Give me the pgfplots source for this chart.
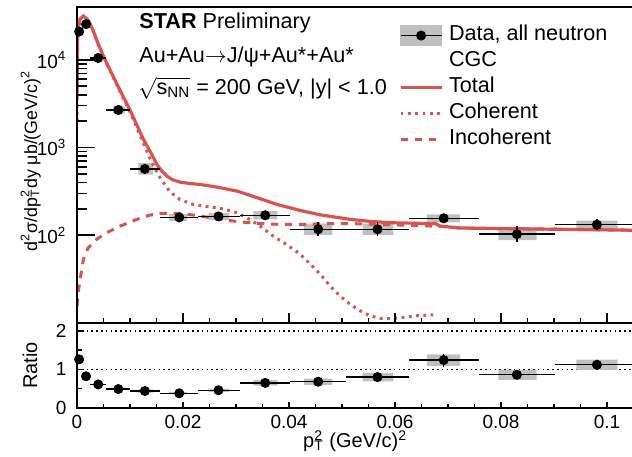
\documentclass[border=0pt]{standalone}
\usepackage{fontspec}
\setmainfont{Liberation Sans}
\usepackage{pgfplots}
\usepackage{pgfplotstable}
\pgfplotsset{compat=1.18}

\definecolor{cgcred}{RGB}{216,84,80}
\definecolor{sysgray}{RGB}{192,192,192}

\newcommand\tickfont{\fontsize{9.5}{11}\selectfont}
\newcommand\labfont{\fontsize{10}{12}\selectfont}
\newcommand\ylabfont{\fontsize{8.9}{11}\selectfont}
\newcommand\txtfont{\fontsize{10.8}{13}\selectfont}
\newcommand\ptsq{p\rlap{\textsuperscript{2}}\textsubscript{T}}

% measured spectrum: x = pT^2, y, bin half-widths, statistical errors
\pgfplotstableread{
x      y      exm    exp    eyp    eym
0.0004 21000  0.0004 0.0006 1720   1590
0.0017 25500  0.0007 0.0008 2090   1940
0.0040 10500  0.0015 0.0015 860    800
0.0078 2680   0.0023 0.0022 220    204
0.0128 570    0.0028 0.0029 47     43
0.0193 160    0.0036 0.0035 13     12
0.0267 164    0.0039 0.0040 13.5   12.5
0.0355 169    0.0048 0.0046 14     13
0.0455 117    0.0054 0.0052 23.5   19.6
0.0567 117    0.0060 0.0060 23.5   19.6
0.0692 156    0.0065 0.0067 21.8   19.2
0.0830 103    0.0071 0.0072 24     19.5
0.0981 132    0.0079 0.0094 20.5   17.7
}\spectrum

% data / CGC total
\pgfplotstableread{
x      y     exm    exp    eyp   eym
0.0004 1.26  0.0004 0.0006 0.05  0.05
0.0017 0.82  0.0007 0.0008 0.04  0.04
0.0040 0.61  0.0015 0.0015 0.03  0.03
0.0078 0.49  0.0023 0.0022 0.03  0.03
0.0128 0.44  0.0028 0.0029 0.03  0.03
0.0193 0.38  0.0036 0.0035 0.03  0.03
0.0267 0.46  0.0039 0.0040 0.03  0.03
0.0355 0.65  0.0048 0.0046 0.05  0.05
0.0455 0.68  0.0054 0.0052 0.07  0.07
0.0567 0.80  0.0060 0.0060 0.10  0.10
0.0692 1.24  0.0065 0.0067 0.17  0.17
0.0830 0.86  0.0071 0.0072 0.12  0.12
0.0981 1.12  0.0079 0.0094 0.13  0.13
}\ratiotab

% CGC predictions
\pgfplotstableread{
x      y
0      3800
0.0001 16900
0.0003 24300
0.0006 29200
0.0012 31600
0.0021 28500
0.0030 21900
0.0040 15200
0.0051 10600
0.0075 5340
0.0100 2680
0.0125 1250
0.0140 860
0.0151 640
0.0160 540
0.0170 470
0.0180 430
0.0195 403
0.0215 388
0.0232 380
0.0264 354
0.0302 319
0.0340 268
0.0377 225
0.0421 192
0.0459 171
0.0515 152
0.0553 144
0.0591 139
0.0642 137
0.0677 135
0.0685 127
0.0723 121
0.0811 119
0.1060 114
}\cgctotal

\pgfplotstableread{
x      y
0      1970
0.0001 16500
0.0003 24000
0.0006 29000
0.0012 31400
0.0021 28300
0.0030 21700
0.0040 15000
0.0051 10450
0.0075 5200
0.0100 2540
0.0119 1380
0.0138 740
0.0157 450
0.0175 315
0.0194 256
0.0219 225
0.0245 213
0.0270 203
0.0295 187
0.0320 159
0.0345 128
0.0370 98
0.0396 78
0.0421 61
0.0440 47
0.0459 36
0.0477 26.6
0.0496 20.4
0.0515 16.4
0.0534 13.8
0.0553 12.1
0.0572 11.3
0.0591 11.2
0.0616 11.6
0.0641 12.1
0.0672 12.4
}\cgccoh

\pgfplotstableread{
x      y
0      15.7
0.0003 24
0.0006 31.6
0.0012 53
0.0021 72
0.0037 90
0.0056 107
0.0081 127
0.0113 152
0.0138 170
0.0157 178
0.0194 178
0.0232 166
0.0270 152
0.0308 142
0.0345 136
0.0383 133
0.0421 133
0.0477 136
0.0515 136
0.0553 134
0.0591 132
0.0641 129
0.0677 127
0.0685 127
0.0723 121
0.0811 119
0.1060 114
}\cgcincoh

\pgfplotsset{
  panel/.style={
    scale only axis, width=280.9pt,
    xmin=0, xmax=0.106,
    axis line style={line width=0.9pt},
    tick style={line width=0.8pt, black},
    tick align=inside, xtick pos=bottom, ytick pos=left,
    xtick={0,0.02,0.04,0.06,0.08,0.1}, minor x tick num=3,
    scaled x ticks=false,
    tick label style={font=\tickfont},
    /pgf/number format/assume math mode=true,
    label style={font=\labfont},
    axis on top,
  },
  sysbox/.style={fill=sysgray, draw=none, forget plot, unbounded coords=jump},
  datapts/.style={only marks, mark=*, mark size=2.3pt, black, forget plot,
    error bars/.cd, x dir=both, x explicit, y dir=both, y explicit,
    error mark=none, error bar style={line width=0.7pt, black}},
}

\begin{document}
\begin{tikzpicture}
\begin{axis}[panel, name=main, at={(0,0)}, anchor=south west,
  height=158pt,
  ymode=log, ymin=10, ymax=4e4,
  ytick={100,1000,10000},
  yticklabels={10\textsuperscript{2},10\textsuperscript{3},10\textsuperscript{4}},
  yticklabel style={xshift=-1.8pt},
  xticklabels={},
  xtick style={/pgfplots/major tick length=5pt, /pgfplots/minor tick length=2.5pt},
  ytick style={/pgfplots/major tick length=9pt, /pgfplots/minor tick length=5pt},
  ylabel={d\textsuperscript{2}σ/d\ptsq dy μb/(GeV/c)\textsuperscript{2}},
  ylabel style={at={(axis description cs:-0.0712,0.513)}, anchor=base, font=\ylabfont},
  legend style={at={(axis description cs:0.5732,0.9425)}, anchor=north west,
    draw=none, fill=none, inner sep=0pt, outer sep=0pt,
    font=\txtfont, row sep=2.6pt, column sep=0pt,
    nodes={inner xsep=0pt, inner ysep=0pt, text height=7.8pt, text depth=2.6pt}},
  legend cell align=left,
]
% systematic uncertainties
\addplot[sysbox] coordinates {
 (0.0035,9960) (0.0047,9960) (0.0047,11070) (0.0035,11070) (nan,nan)
 (0.0068,2430) (0.0090,2430) (0.0090,2950) (0.0068,2950) (nan,nan)
 (0.0116,490) (0.0143,490) (0.0143,663) (0.0116,663) (nan,nan)
 (0.0174,146) (0.0208,146) (0.0208,175) (0.0174,175) (nan,nan)
 (0.0248,150) (0.0287,150) (0.0287,180) (0.0248,180) (nan,nan)
 (0.0333,152) (0.0378,152) (0.0378,188) (0.0333,188) (nan,nan)
 (0.0428,101) (0.0482,101) (0.0482,136) (0.0428,136) (nan,nan)
 (0.0539,101) (0.0597,101) (0.0597,136) (0.0539,136) (nan,nan)
 (0.0660,140.5) (0.0723,140.5) (0.0723,173) (0.0660,173) (nan,nan)
 (0.0795,88) (0.0867,88) (0.0867,120.5) (0.0795,120.5) (nan,nan)
 (0.0942,119) (0.1020,119) (0.1020,147) (0.0942,147)
};
% CGC curves
\addplot[cgcred, line width=1.5pt, dash pattern=on 3.7pt off 3.3pt, forget plot] table {\cgcincoh};
\addplot[cgcred, line width=1.5pt, dash pattern=on 1.4pt off 2.25pt, forget plot] table {\cgccoh};
\addplot[cgcred, line width=1.6pt, forget plot] table {\cgctotal};
% data
\addplot[datapts] table[x=x, y=y, x error plus=exp, x error minus=exm,
  y error plus=eyp, y error minus=eym] {\spectrum};

\addlegendimage{legend image code/.code={
  \fill[sysgray] (0pt,-4.85pt) rectangle (20.5pt,4.85pt);
  \draw[black, line width=0.7pt] (0pt,0pt) -- (20.5pt,0pt);
  \fill[black] (10.25pt,0pt) circle (2.3pt);
  \path (24pt,0pt);}}
\addlegendentry{Data, all neutron}
\addlegendimage{legend image code/.code={\path (0pt,0pt) (24pt,0pt);}}
\addlegendentry{CGC}
\addlegendimage{legend image code/.code={
  \draw[cgcred, line width=1.6pt] (0pt,0pt) -- (20.5pt,0pt); \path (24pt,0pt);}}
\addlegendentry{Total}
\addlegendimage{legend image code/.code={
  \draw[cgcred, line width=1.5pt, dash pattern=on 1.4pt off 2.25pt] (0pt,0pt) -- (20.5pt,0pt); \path (24pt,0pt);}}
\addlegendentry{Coherent}
\addlegendimage{legend image code/.code={
  \draw[cgcred, line width=1.5pt, dash pattern=on 3.7pt off 3.3pt] (0pt,0pt) -- (20.5pt,0pt); \path (24pt,0pt);}}
\addlegendentry{Incoherent}
\end{axis}

\begin{axis}[panel, at={(main.south west)}, anchor=north west,
  height=42.5pt,
  ymin=0, ymax=2.2, ytick={0,1,2}, minor y tick num=1,
  yticklabel style={xshift=-1.8pt},
  xticklabel style={/pgf/number format/.cd, fixed, precision=3},
  xtick style={/pgfplots/major tick length=3pt, /pgfplots/minor tick length=2pt},
  ytick style={/pgfplots/major tick length=3.5pt, /pgfplots/minor tick length=2.5pt},
  ylabel={Ratio},
  ylabel style={at={(axis description cs:-0.0712,0.5)}, anchor=base},
  xlabel={\ptsq\ (GeV/c)\textsuperscript{2}},
  xlabel style={at={(axis description cs:0.495,-0.465)}, anchor=base},
]
\addplot[black, line width=0.8pt, dash pattern=on 0.8pt off 1.6pt, forget plot] coordinates {(0,1) (0.106,1)};
\addplot[black, line width=0.8pt, dash pattern=on 0.8pt off 1.6pt, forget plot] coordinates {(0,2) (0.106,2)};
\addplot[sysbox] coordinates {
 (0.0035,0.58) (0.0047,0.58) (0.0047,0.64) (0.0035,0.64) (nan,nan)
 (0.0068,0.46) (0.0090,0.46) (0.0090,0.52) (0.0068,0.52) (nan,nan)
 (0.0116,0.40) (0.0143,0.40) (0.0143,0.48) (0.0116,0.48) (nan,nan)
 (0.0174,0.35) (0.0208,0.35) (0.0208,0.41) (0.0174,0.41) (nan,nan)
 (0.0248,0.42) (0.0287,0.42) (0.0287,0.50) (0.0248,0.50) (nan,nan)
 (0.0333,0.58) (0.0378,0.58) (0.0378,0.72) (0.0333,0.72) (nan,nan)
 (0.0428,0.60) (0.0482,0.60) (0.0482,0.76) (0.0428,0.76) (nan,nan)
 (0.0539,0.69) (0.0597,0.69) (0.0597,0.91) (0.0539,0.91) (nan,nan)
 (0.0660,1.09) (0.0723,1.09) (0.0723,1.39) (0.0660,1.39) (nan,nan)
 (0.0795,0.73) (0.0867,0.73) (0.0867,0.99) (0.0795,0.99) (nan,nan)
 (0.0942,0.99) (0.1020,0.99) (0.1020,1.25) (0.0942,1.25)
};
\addplot[datapts] table[x=x, y=y, x error plus=exp, x error minus=exm,
  y error plus=eyp, y error minus=eym] {\ratiotab};
\end{axis}

\node[anchor=base west, inner sep=0pt, font=\txtfont] at (31pt,147.5pt) {\textbf{STAR} Preliminary};
\node[anchor=base west, inner sep=0pt, font=\txtfont] at (31pt,130.5pt) {Au+Au$\rightarrow$J/ψ+Au*+Au*};
\node[anchor=base west, inner sep=0pt, font=\txtfont] at (30.5pt,114.5pt) {$\sqrt{\mbox{s\textsubscript{NN}}}$ = 200 GeV, |y| < 1.0};

\pgfresetboundingbox
\useasboundingbox (-38.5pt,-66.5pt) rectangle (277.5pt,161.5pt);
\end{tikzpicture}
\end{document}
